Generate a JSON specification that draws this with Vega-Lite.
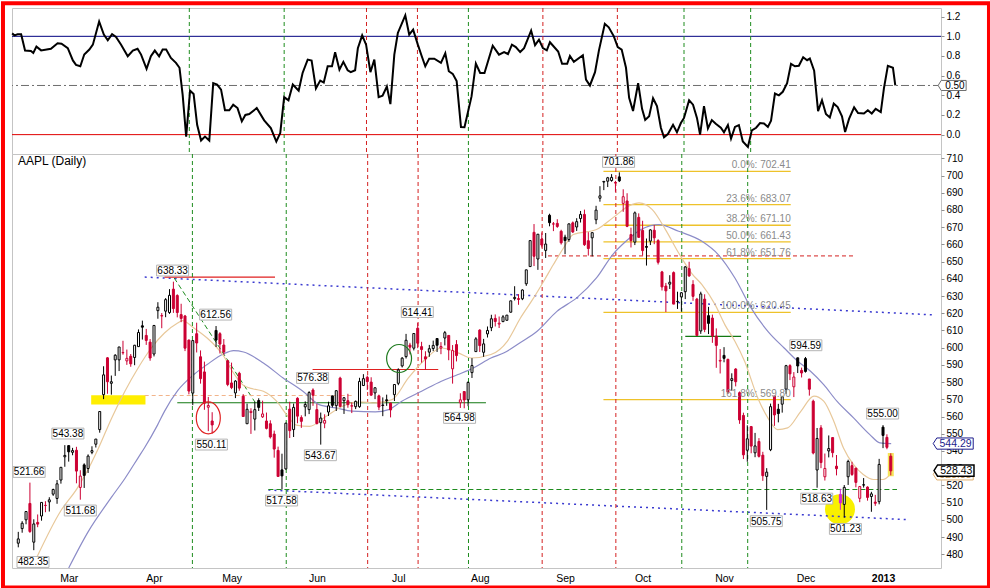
{
  "$schema": "https://vega.github.io/schema/vega-lite/v6.json",
  "padding": 0,
  "background": "white",
  "bounds": "flush",
  "spacing": 0,
  "config": {
    "font": "Liberation Sans",
    "view": {"stroke": "#c4c4c4"},
    "axis": {"grid": false, "domain": false, "labelFont": "Liberation Sans", "labelFontSize": 10, "labelColor": "#000000", "tickColor": "#909090", "tickSize": 3}
  },
  "datasets": {
    "vlines": [
      {"i": 44.9, "k": "g"}, {"i": 69.1, "k": "g"}, {"i": 90.1, "k": "r"}, {"i": 103.1, "k": "r"},
      {"i": 116.1, "k": "g"}, {"i": 135.1, "k": "r"}, {"i": 154.1, "k": "r"}, {"i": 171.1, "k": "g"}, {"i": 188.1, "k": "g"}
    ],
    "osc": [
      {"i":-0.3,"v":1.03},{"i":0.3,"v":1.01},{"i":1.1,"v":1.02},{"i":2,"v":1.02},{"i":3,"v":0.855},{"i":4.5,"v":0.85},{"i":5.1,"v":0.83},{"i":5.9,"v":0.895},{"i":7.1,"v":0.857},{"i":9.6,"v":0.874},
      {"i":11.3,"v":0.93},{"i":12.3,"v":0.925},{"i":13.9,"v":0.88},{"i":15.2,"v":0.755},{"i":16,"v":0.71},{"i":17.1,"v":0.695},{"i":18.1,"v":0.815},{"i":19.4,"v":0.865},{"i":20.3,"v":0.915},{"i":21.9,"v":1.15},
      {"i":23.1,"v":1.017},{"i":24.1,"v":0.96},{"i":25.2,"v":1.023},{"i":26.2,"v":0.993},{"i":27.5,"v":0.915},{"i":29.2,"v":0.797},{"i":30.5,"v":0.855},{"i":31.7,"v":0.874},{"i":32.6,"v":0.814},{"i":34,"v":0.67},
      {"i":35.1,"v":0.797},{"i":36.1,"v":0.855},{"i":37.2,"v":0.797},{"i":38.1,"v":0.865},{"i":39,"v":0.865},{"i":40.2,"v":0.78},{"i":41.5,"v":0.73},{"i":42.4,"v":0.68},{"i":43.2,"v":0.406},{"i":44.1,"v":-0.02},
      {"i":45.1,"v":0.447},{"i":46,"v":0.413},{"i":46.9,"v":0.1},{"i":47.9,"v":-0.06},{"i":48.9,"v":-0.02},{"i":50,"v":-0.06},{"i":51,"v":0.524},{"i":52,"v":0.509},{"i":53,"v":0.458},{"i":54,"v":0.248},
      {"i":55.1,"v":0.248},{"i":56.1,"v":0.305},{"i":57.2,"v":0.27},{"i":58.3,"v":0.135},{"i":59.2,"v":0.2},{"i":60.2,"v":0.21},{"i":62.1,"v":0.27},{"i":64,"v":0.145},{"i":65.7,"v":0.066},{"i":67.1,"v":-0.07},
      {"i":68.1,"v":0.016},{"i":69.1,"v":0.382},{"i":70.2,"v":0.35},{"i":71.3,"v":0.51},{"i":72.8,"v":0.447},{"i":73.8,"v":0.627},{"i":75.1,"v":0.763},{"i":76.1,"v":0.753},{"i":77.2,"v":0.47},{"i":78.3,"v":0.55},
      {"i":79.2,"v":0.53},{"i":80.2,"v":0.695},{"i":81.3,"v":0.695},{"i":82.1,"v":0.837},{"i":83.2,"v":0.66},{"i":84.2,"v":0.74},{"i":85.3,"v":0.655},{"i":86.1,"v":0.635},{"i":87.2,"v":0.655},{"i":87.9,"v":0.88},
      {"i":89,"v":1.01},{"i":90,"v":0.915},{"i":91.1,"v":0.635},{"i":92.1,"v":0.763},{"i":93.2,"v":0.382},{"i":94.2,"v":0.396},{"i":95.3,"v":0.49},{"i":96.2,"v":0.31},{"i":97.2,"v":0.814},{"i":98.1,"v":1.034},
      {"i":100,"v":1.214},{"i":101,"v":1.017},{"i":102,"v":1.068},{"i":103.2,"v":0.915},{"i":104.2,"v":0.797},{"i":105.1,"v":0.695},{"i":106.1,"v":0.773},{"i":107.4,"v":0.773},{"i":109.1,"v":0.73},{"i":110.2,"v":0.827},
      {"i":111.1,"v":0.645},{"i":112.1,"v":0.618},{"i":113.1,"v":0.544},{"i":114.2,"v":0.078},{"i":115.1,"v":0.075},{"i":116.9,"v":0.389},{"i":118,"v":0.722},{"i":119.1,"v":0.627},{"i":120.2,"v":0.627},{"i":122.3,"v":0.905},
      {"i":123.9,"v":0.814},{"i":125.2,"v":0.84},{"i":126.2,"v":0.82},{"i":127.2,"v":0.915},{"i":128.2,"v":0.89},{"i":129.3,"v":0.84},{"i":130.3,"v":0.88},{"i":132.1,"v":1.058},{"i":133.1,"v":0.91},{"i":134.1,"v":0.966},
      {"i":135.1,"v":0.88},{"i":136.1,"v":0.857},{"i":136.9,"v":0.94},{"i":139,"v":0.845},{"i":140,"v":0.72},{"i":141.3,"v":0.72},{"i":142,"v":0.8},{"i":143,"v":0.74},{"i":145.3,"v":0.807},{"i":146.1,"v":0.56},
      {"i":147.1,"v":0.5},{"i":148.4,"v":0.635},{"i":149.4,"v":0.857},{"i":150.9,"v":1.127},{"i":151.9,"v":1.092},{"i":153.2,"v":1.0},{"i":154.2,"v":0.89},{"i":155.2,"v":0.865},{"i":156.3,"v":0.68},{"i":157.1,"v":0.375},
      {"i":158.1,"v":0.24},{"i":159.4,"v":0.524},{"i":160.4,"v":0.262},{"i":161.2,"v":0.15},{"i":162.2,"v":0.186},{"i":163.2,"v":0.37},{"i":164.2,"v":0.29},{"i":165.2,"v":0.07},{"i":166,"v":-0.027},{"i":167,"v":0.006},
      {"i":168.3,"v":0.1},{"i":169.3,"v":0.024},{"i":170.3,"v":0.118},{"i":171.1,"v":0.17},{"i":172.4,"v":0.35},{"i":173.4,"v":0.305},{"i":174.4,"v":0.17},{"i":175.2,"v":0.0},{"i":176.2,"v":0.29},{"i":177.2,"v":0.062},
      {"i":178.2,"v":0.148},{"i":179.2,"v":0.11},{"i":180.5,"v":0.07},{"i":181.3,"v":0.024},{"i":182.3,"v":0.097},{"i":183.1,"v":-0.04},{"i":184.1,"v":0.078},{"i":185.1,"v":0.097},{"i":186.1,"v":-0.07},{"i":187.4,"v":-0.125},
      {"i":188.4,"v":0.044},{"i":189.5,"v":0.07},{"i":190.5,"v":0.118},{"i":191.5,"v":0.114},{"i":192.5,"v":0.078},{"i":193.3,"v":0.142},{"i":194.3,"v":0.418},{"i":195.3,"v":0.4},{"i":196.3,"v":0.436},{"i":197.4,"v":0.524},
      {"i":198.4,"v":0.72},{"i":199.4,"v":0.695},{"i":200.4,"v":0.7},{"i":201.5,"v":0.787},{"i":202.5,"v":0.757},{"i":203.2,"v":0.774},{"i":204.3,"v":0.65},{"i":205.3,"v":0.24},{"i":206.3,"v":0.35},{"i":207.3,"v":0.21},
      {"i":208.3,"v":0.175},{"i":209.3,"v":0.315},{"i":210.3,"v":0.28},{"i":211.4,"v":0.186},{"i":212.2,"v":0.027},{"i":213.2,"v":0.16},{"i":214.5,"v":0.277},{"i":215.5,"v":0.22},{"i":217,"v":0.215},{"i":218,"v":0.248},
      {"i":219,"v":0.215},{"i":220,"v":0.262},{"i":221.3,"v":0.23},{"i":222.1,"v":0.47},{"i":223.1,"v":0.7},{"i":224.4,"v":0.68},{"i":225,"v":0.5}
    ],
    "ohlc": [
      {"i":0,"o":486.4,"h":493,"l":484,"c":488.9},{"i":1,"o":494.9,"h":499.2,"l":492.5,"c":498},{"i":2,"o":500,"h":504.9,"l":497.4,"c":504.8},{"i":3,"o":509.5,"h":521.6,"l":492.4,"c":493.2},
      {"i":4,"o":487,"h":500.3,"l":482.35,"c":497.6},{"i":5,"o":498.5,"h":503.1,"l":495.7,"c":497.5},{"i":6,"o":502.2,"h":510.1,"l":499.5,"c":510.1},{"i":7,"o":508.4,"h":510.8,"l":504.4,"c":508.3},
      {"i":8,"o":510.4,"h":513.1,"l":504.8,"c":511.6},{"i":9,"o":514.9,"h":518.1,"l":513.9,"c":517.6},{"i":10,"o":512.4,"h":523.1,"l":509.3,"c":520.9},{"i":11,"o":523.1,"h":530.5,"l":521,"c":530.5},
      {"i":12,"o":536.6,"h":543.38,"l":530.8,"c":537.4},{"i":13,"o":543.1,"h":543.2,"l":533.8,"c":539.5},{"i":14,"o":539.2,"h":541.8,"l":537.5,"c":540.2},{"i":15,"o":540.4,"h":542.4,"l":521.2,"c":528.3},
      {"i":16,"o":518.8,"h":528.8,"l":511.68,"c":525.4},{"i":17,"o":531.9,"h":532.8,"l":518.5,"c":525.8},{"i":18,"o":529.8,"h":538,"l":527.2,"c":537},{"i":19,"o":539.2,"h":542.7,"l":538.1,"c":540.2},
      {"i":20,"o":543.9,"h":546.9,"l":542,"c":546.9},{"i":21,"o":552.4,"h":563,"l":550.6,"c":562.9},{"i":22,"o":572.7,"h":589.2,"l":570.1,"c":584.2},{"i":23,"o":594.1,"h":594.5,"l":573.2,"c":580.2},
      {"i":24,"o":579.3,"h":583.8,"l":572.7,"c":580.2},{"i":25,"o":592.9,"h":596.2,"l":583.6,"c":595.6},{"i":26,"o":592.9,"h":600.4,"l":586.4,"c":600.4},{"i":27,"o":597.2,"h":604,"l":595.9,"c":597},
      {"i":28,"o":592.3,"h":598.9,"l":590,"c":593.8},{"i":29,"o":595,"h":596.3,"l":588.9,"c":590.6},{"i":30,"o":594.3,"h":601.6,"l":589.8,"c":601.4},{"i":31,"o":600.6,"h":610.6,"l":600.5,"c":608.8},
      {"i":32,"o":612.7,"h":615.7,"l":604.7,"c":611.9},{"i":33,"o":607.1,"h":610.9,"l":601.6,"c":604.2},{"i":34,"o":603.2,"h":605,"l":592.4,"c":594},{"i":35,"o":596.3,"h":613.1,"l":594.9,"c":612.9},
      {"i":36,"o":621.5,"h":626.4,"l":616.8,"c":623.5},{"i":37,"o":618.6,"h":620.1,"l":611.3,"c":618.4},{"i":38,"o":621.2,"h":628.8,"l":617.7,"c":627.9},{"i":39,"o":620.4,"h":634,"l":619.6,"c":630.4},
      {"i":40,"o":634,"h":638.33,"l":620.2,"c":622.7},{"i":41,"o":630.3,"h":631,"l":617.6,"c":620.4},{"i":42,"o":619.2,"h":625.5,"l":614.8,"c":617},{"i":43,"o":618.4,"h":619,"l":598,"c":599.7},
      {"i":44,"o":604.4,"h":604.7,"l":572.9,"c":574.8},{"i":45,"o":573.6,"h":604.4,"l":566.6,"c":604.1},{"i":46,"o":608.1,"h":614.5,"l":597.2,"c":602.7},{"i":47,"o":594.7,"h":598.4,"l":579.1,"c":582},
      {"i":48,"o":585.9,"h":591.9,"l":563.9,"c":567.7},{"i":49,"o":565.4,"h":571.4,"l":551.5,"c":566.4},{"i":50,"o":557.4,"h":562.5,"l":550.11,"c":555.1},{"i":51,"o":610,"h":612.56,"l":600.4,"c":604.4},
      {"i":52,"o":608.1,"h":609,"l":596.6,"c":602.1},{"i":53,"o":601.5,"h":605,"l":596,"c":597.5},{"i":54,"o":592.4,"h":592.9,"l":577.6,"c":578.6},{"i":55,"o":579.5,"h":591.3,"l":575.9,"c":576.8},
      {"i":56,"o":573.7,"h":581.1,"l":570.7,"c":580.6},{"i":57,"o":585.1,"h":586,"l":575,"c":576.5},{"i":58,"o":571.8,"h":573,"l":560,"c":560},{"i":59,"o":555.8,"h":567.5,"l":555.8,"c":564.2},
      {"i":60,"o":562.3,"h":564.8,"l":549.9,"c":563},{"i":61,"o":558.5,"h":568.6,"l":551.9,"c":564},{"i":62,"o":569.3,"h":570.6,"l":563.2,"c":565.3},{"i":63,"o":559.8,"h":569.2,"l":559.2,"c":561.5},
      {"i":64,"o":557.4,"h":562.3,"l":552.5,"c":553.1},{"i":65,"o":555.8,"h":557.8,"l":547.2,"c":548.1},{"i":66,"o":549.8,"h":551.8,"l":536.1,"c":541.1},{"i":67,"o":540.3,"h":542.5,"l":525.2,"c":525.2},
      {"i":68,"o":529,"h":538.4,"l":517.58,"c":525.5},{"i":69,"o":529.6,"h":556.4,"l":529.1,"c":556.1},{"i":70,"o":564.3,"h":568.6,"l":547.5,"c":551.8},{"i":71,"o":552.4,"h":567.5,"l":548.1,"c":565.3},
      {"i":72,"o":570.6,"h":571.2,"l":556.1,"c":560.2},{"i":73,"o":559.4,"h":560.7,"l":553.4,"c":557.2},{"i":74,"o":565.6,"h":568.8,"l":560.1,"c":567},{"i":75,"o":564,"h":574.7,"l":561.4,"c":573.9},
      {"i":76,"o":575.4,"h":576.38,"l":566.2,"c":572.4},{"i":77,"o":564,"h":567.4,"l":555.4,"c":555.9},{"i":78,"o":556.4,"h":562.3,"l":543.67,"c":559.1},{"i":79,"o":556.1,"h":561.3,"l":553.2,"c":557.7},
      {"i":80,"o":562.6,"h":568.6,"l":560.3,"c":566.2},{"i":81,"o":572,"h":572,"l":565.3,"c":566.5},{"i":82,"o":566.3,"h":575.3,"l":563.2,"c":575},{"i":83,"o":582.3,"h":583.1,"l":565.4,"c":565.9},
      {"i":84,"o":569.2,"h":571.3,"l":561.5,"c":570.9},{"i":85,"o":569.2,"h":573.2,"l":565.1,"c":566.9},{"i":86,"o":566,"h":568.2,"l":562,"c":566.3},{"i":87,"o":565.7,"h":569.3,"l":564.3,"c":568.8},
      {"i":88,"o":565.7,"h":582.5,"l":565.1,"c":580.4},{"i":89,"o":578,"h":584.6,"l":577.7,"c":582},{"i":90,"o":582.8,"h":583.8,"l":575.4,"c":580.3},{"i":91,"o":580,"h":582.8,"l":572.1,"c":572.4},
      {"i":92,"o":573.7,"h":576.8,"l":570.1,"c":576.7},{"i":93,"o":572,"h":572.7,"l":563.7,"c":565.5},{"i":94,"o":566.4,"h":571.1,"l":560.2,"c":566.7},{"i":95,"o":569.7,"h":572.7,"l":566.2,"c":569.2},
      {"i":96,"o":567.8,"h":568,"l":559.5,"c":563.8},{"i":97,"o":572.7,"h":578.6,"l":569,"c":578.6},{"i":98,"o":579.3,"h":588,"l":578.2,"c":587.1},{"i":99,"o":589.4,"h":594.5,"l":588.5,"c":593.9},
      {"i":100,"o":594.8,"h":608,"l":593.7,"c":604.3},{"i":101,"o":601.5,"h":602.8,"l":596.1,"c":600.3},{"i":102,"o":599.7,"h":608.3,"l":598.4,"c":608.2},{"i":103,"o":611.3,"h":614.41,"l":599.7,"c":602.6},
      {"i":104,"o":600.6,"h":603.4,"l":591.3,"c":598.9},{"i":105,"o":594.7,"h":597.9,"l":587.2,"c":593.4},{"i":106,"o":597.4,"h":601.6,"l":594.7,"c":599.4},{"i":107,"o":599.5,"h":604.1,"l":598,"c":601.3},
      {"i":108,"o":605.3,"h":605.4,"l":597.5,"c":601.4},{"i":109,"o":599.8,"h":603.2,"l":596.2,"c":600.7},{"i":110,"o":605.6,"h":609.7,"l":601.3,"c":608.7},{"i":111,"o":607.1,"h":607.3,"l":592.7,"c":598.7},
      {"i":112,"o":587.7,"h":601.5,"l":579.1,"c":598.3},{"i":113,"o":601.8,"h":604.4,"l":592,"c":595.4},{"i":114,"o":568,"h":573.5,"l":564.98,"c":569.7},{"i":115,"o":574.5,"h":574.7,"l":564.8,"c":569.6},
      {"i":116,"o":569.7,"h":580.4,"l":566,"c":579.8},{"i":117,"o":585.5,"h":593.9,"l":582.4,"c":589.6},{"i":118,"o":597.7,"h":606.1,"l":597.5,"c":605.1},{"i":119,"o":610.2,"h":610.7,"l":597.5,"c":601.2},
      {"i":120,"o":597.3,"h":605.1,"l":594.7,"c":602.2},{"i":121,"o":608,"h":612.3,"l":605.9,"c":610},{"i":122,"o":611.6,"h":619.1,"l":609.6,"c":616.8},{"i":123,"o":617,"h":619.3,"l":612.3,"c":615.2},
      {"i":124,"o":613.7,"h":618.1,"l":611.4,"c":614.2},{"i":125,"o":615.1,"h":618.9,"l":615,"c":617.9},{"i":126,"o":615.9,"h":618.9,"l":615.9,"c":618.9},{"i":127,"o":620.6,"h":627.2,"l":620.4,"c":627.2},
      {"i":128,"o":628.5,"h":635.7,"l":627.4,"c":629.2},{"i":129,"o":628.5,"h":631.1,"l":624.9,"c":628},{"i":130,"o":628.4,"h":633.9,"l":627.6,"c":633.5},{"i":131,"o":637.1,"h":645.3,"l":635.9,"c":645.2},
      {"i":132,"o":647.1,"h":662.2,"l":647,"c":662.2},{"i":133,"o":667,"h":671.8,"l":647.4,"c":653.1},{"i":134,"o":651.5,"h":666,"l":645.2,"c":665.9},{"i":135,"o":663.1,"h":666.9,"l":658.2,"c":659.6},
      {"i":136,"o":656.5,"h":666.6,"l":652.1,"c":660.2},{"i":137,"o":676.9,"h":677.8,"l":670.5,"c":672.6},{"i":138,"o":671.9,"h":673,"l":667.7,"c":671.8},{"i":139,"o":672.2,"h":674.6,"l":669.6,"c":670.4},
      {"i":140,"o":667.6,"h":668.5,"l":659.9,"c":660.9},{"i":141,"o":664.2,"h":665.6,"l":654.3,"c":662.2},{"i":142,"o":662.8,"h":672.1,"l":661.5,"c":671.9},{"i":143,"o":672.5,"h":673.3,"l":666.6,"c":667.2},
      {"i":144,"o":670.1,"h":675.2,"l":667.8,"c":673.2},{"i":145,"o":675,"h":679.4,"l":672.7,"c":677.4},{"i":146,"o":677.4,"h":680.2,"l":659.1,"c":659.8},{"i":147,"o":662.1,"h":667.1,"l":653.5,"c":657.6},
      {"i":148,"o":663.8,"h":666.9,"l":653,"c":666.8},{"i":149,"o":674.3,"h":682.4,"l":671.7,"c":679.9},{"i":150,"o":686.8,"h":693.8,"l":684.8,"c":688.2},{"i":151,"o":696.2,"h":696.6,"l":691.5,"c":696.6},
      {"i":152,"o":696.7,"h":699.2,"l":693.3,"c":698.7},{"i":153,"o":697.1,"h":700.8,"l":696.4,"c":698.9},{"i":154,"o":696,"h":696.9,"l":690.5,"c":695.6},{"i":155,"o":699.2,"h":701.86,"l":696.2,"c":696.9},
      {"i":156,"o":683.8,"h":692,"l":678.9,"c":687.7},{"i":157,"o":685.2,"h":689.7,"l":670,"c":670.5},{"i":158,"o":665.7,"h":669.7,"l":658.2,"c":662.2},{"i":159,"o":661.3,"h":679.1,"l":659.6,"c":678.3},
      {"i":160,"o":675.7,"h":678,"l":663.8,"c":664.1},{"i":161,"o":668.1,"h":673.7,"l":653.5,"c":656.4},{"i":162,"o":658.8,"h":663.4,"l":647.7,"c":658.3},{"i":163,"o":661.9,"h":668.8,"l":659.6,"c":668.4},
      {"i":164,"o":668.2,"h":671.2,"l":660.1,"c":663.8},{"i":165,"o":662.2,"h":663,"l":648.3,"c":649.6},{"i":166,"o":644,"h":644.6,"l":633.2,"c":635.3},{"i":167,"o":635.8,"h":637.6,"l":620.7,"c":633},
      {"i":168,"o":636.9,"h":642.1,"l":634.1,"c":638},{"i":169,"o":643.6,"h":644.3,"l":625.3,"c":625.3},{"i":170,"o":626.7,"h":632.5,"l":622.5,"c":626.9},{"i":171,"o":629.5,"h":632.3,"l":621,"c":631.9},
      {"i":172,"o":632.5,"h":647.4,"l":628.2,"c":646.9},{"i":173,"o":645.9,"h":649.9,"l":641.1,"c":641.7},{"i":174,"o":636.7,"h":639.2,"l":627.2,"c":629.8},{"i":175,"o":628.2,"h":628.9,"l":606.9,"c":607.1},
      {"i":176,"o":609.7,"h":632.5,"l":608,"c":631.2},{"i":177,"o":628.2,"h":631,"l":609,"c":610.6},{"i":178,"o":618.6,"h":623.7,"l":607.9,"c":614.1},{"i":179,"o":617.2,"h":619.2,"l":602.8,"c":606.8},
      {"i":180,"o":606.7,"h":611.2,"l":588.3,"c":601.3},{"i":181,"o":592.2,"h":599.2,"l":585,"c":592.6},{"i":182,"o":595.5,"h":600.3,"l":591.5,"c":593.8},{"i":183,"o":593.2,"h":593.6,"l":573.1,"c":574.2},
      {"i":184,"o":580.9,"h":585.1,"l":575,"c":582},{"i":185,"o":587.6,"h":588.1,"l":577.5,"c":580.2},{"i":186,"o":573.84,"h":574.54,"l":555.75,"c":558},{"i":187,"o":560.63,"h":562.23,"l":535.29,"c":537.75},
      {"i":188,"o":540.42,"h":554.88,"l":533.72,"c":547.06},{"i":189,"o":554.15,"h":554.5,"l":538.65,"c":542.83},{"i":190,"o":538.91,"h":550.48,"l":536.36,"c":542.9},{"i":191,"o":545.5,"h":547.45,"l":536.18,"c":536.88},
      {"i":192,"o":537.53,"h":539.5,"l":522.62,"c":525.62},{"i":193,"o":525.2,"h":530,"l":505.75,"c":527.68},{"i":194,"o":540.71,"h":567.5,"l":539.88,"c":565.73},{"i":195,"o":571.91,"h":571.95,"l":554.58,"c":560.91},
      {"i":196,"o":564.25,"h":567.37,"l":556.6,"c":561.7},{"i":197,"o":567.17,"h":572,"l":562.26,"c":571.5},{"i":198,"o":575.9,"h":590,"l":573.17,"c":589.53},{"i":199,"o":589.55,"h":590.37,"l":581.15,"c":584.78},
      {"i":200,"o":577.27,"h":585.8,"l":571.3,"c":582.94},{"i":201,"o":594.09,"h":594.25,"l":585.25,"c":589.36},{"i":202,"o":586.79,"h":588.4,"l":582.68,"c":585.28},{"i":203,"o":593.65,"h":594.59,"l":585.5,"c":586.19},
      {"i":204,"o":581.8,"h":581.8,"l":572.13,"c":575.85},{"i":205,"o":568.91,"h":569.8,"l":538,"c":538.79},{"i":206,"o":528.94,"h":553.33,"l":518.63,"c":547.24},{"i":207,"o":553.4,"h":555,"l":530,"c":533.25},
      {"i":208,"o":525,"h":538.51,"l":522.82,"c":529.82},{"i":209,"o":540,"h":549,"l":536.25,"c":541.39},{"i":210,"o":547.77,"h":547.99,"l":536.27,"c":539},{"i":211,"o":531.15,"h":537.64,"l":525.8,"c":529.69},
      {"i":212,"o":514.75,"h":518,"l":505.79,"c":509.79},{"i":213,"o":508.93,"h":520.2,"l":501.23,"c":518.83},{"i":214,"o":525,"h":534.9,"l":520.25,"c":533.9},{"i":215,"o":531.47,"h":533.7,"l":525.5,"c":526.31},
      {"i":216,"o":530,"h":530.2,"l":518.88,"c":521.73},{"i":217,"o":512.47,"h":519.67,"l":510.24,"c":519.33},{"i":218,"o":520.35,"h":524.25,"l":518.71,"c":520.17},{"i":219,"o":519,"h":519.46,"l":511.12,"c":513},
      {"i":220,"o":513.54,"h":516.25,"l":504.66,"c":515.06},{"i":221,"o":510.29,"h":514.48,"l":508.12,"c":509.59},{"i":222,"o":510.53,"h":535.4,"l":509,"c":532.17},{"i":223,"o":553.82,"h":555,"l":541.63,"c":549.03},
      {"i":224,"o":547.88,"h":549.67,"l":541,"c":542.1},{"i":225,"o":536.97,"h":538.63,"l":525.83,"c":528.43}
    ],
    "ma_fast": [
      {"i":4.9,"p":478.8},{"i":10.9,"p":505},{"i":15.1,"p":518},{"i":17.3,"p":526.3},{"i":20.7,"p":541.7},{"i":24.1,"p":559.2},{"i":27.5,"p":574.7},{"i":30.9,"p":588.2},{"i":34.3,"p":599.8},{"i":37.7,"p":608.5},
      {"i":41.1,"p":614.3},{"i":42.3,"p":615.7},{"i":45.3,"p":611.4},{"i":48.7,"p":605.6},{"i":51.3,"p":599.8},{"i":53,"p":595},{"i":55,"p":587},{"i":58.1,"p":578},{"i":60.6,"p":576},{"i":63.2,"p":574.7},
      {"i":66.6,"p":568.9},{"i":69.2,"p":561.1},{"i":71.7,"p":555},{"i":75.1,"p":554.3},{"i":79.4,"p":560.1},{"i":83.6,"p":566},{"i":87.9,"p":568.5},{"i":92.1,"p":567.9},{"i":96.4,"p":569.8},{"i":100.6,"p":582.4},
      {"i":104.9,"p":593.1},{"i":109.1,"p":599.8},{"i":113.4,"p":597},{"i":116.8,"p":594},{"i":121.9,"p":596},{"i":126.1,"p":603.7},{"i":129.5,"p":617.2},{"i":132.9,"p":628.9},{"i":135.5,"p":638.6},{"i":138,"p":648.3},
      {"i":140.6,"p":657.9},{"i":143.1,"p":665.7},{"i":149.1,"p":668.6},{"i":153.3,"p":675.4},{"i":157.6,"p":682.5},{"i":160.1,"p":684.1},{"i":163.5,"p":680.2},{"i":166.9,"p":668.6},{"i":170.3,"p":655},{"i":173.7,"p":643},
      {"i":176.3,"p":636.6},{"i":179.7,"p":625},{"i":182.2,"p":613.4},{"i":184.8,"p":603.7},{"i":187.3,"p":592.1},{"i":190.7,"p":570.8},{"i":193.3,"p":559.2},{"i":195.8,"p":552.4},{"i":198.4,"p":553.4},{"i":201.8,"p":563},
      {"i":205.2,"p":571.8},{"i":207.7,"p":568.9},{"i":210.3,"p":557.2},{"i":212.8,"p":541.7},{"i":215.4,"p":532},{"i":217.9,"p":526.3},{"i":220.5,"p":523.4},{"i":223,"p":523.4},{"i":225.1,"p":527}
    ],
    "ma_slow": [
      {"i":13,"p":472},{"i":18,"p":493},{"i":24,"p":513},{"i":27.5,"p":524},{"i":30.9,"p":536},{"i":32.6,"p":542},{"i":35.9,"p":555},{"i":37.7,"p":563},{"i":41.1,"p":575},{"i":45.3,"p":584.4},
      {"i":48.7,"p":590.2},{"i":53,"p":596.5},{"i":55.5,"p":598.3},{"i":58.1,"p":597.5},{"i":63.2,"p":591.1},{"i":68.3,"p":582.4},{"i":73.4,"p":574.7},{"i":77.6,"p":566.9},{"i":81.9,"p":565},{"i":86.1,"p":563.1},
      {"i":92.1,"p":562.7},{"i":95.5,"p":564},{"i":98.9,"p":568.9},{"i":104,"p":574.7},{"i":109.1,"p":580.5},{"i":113.4,"p":584.4},{"i":117.6,"p":588.5},{"i":121.9,"p":594},{"i":125.3,"p":597},{"i":129.5,"p":603},
      {"i":133.8,"p":609.5},{"i":138.9,"p":621.1},{"i":144,"p":628.9},{"i":149.1,"p":640.5},{"i":153.3,"p":654.1},{"i":156.7,"p":661.8},{"i":160.5,"p":668.5},{"i":165.2,"p":671.5},{"i":170.3,"p":667.6},{"i":176.3,"p":661.8},
      {"i":180.5,"p":654.1},{"i":184.8,"p":640.5},{"i":189,"p":623},{"i":193.3,"p":609.5},{"i":197.5,"p":599.8},{"i":201,"p":592.1},{"i":204.3,"p":586.3},{"i":207.7,"p":578.5},{"i":211.1,"p":568.9},{"i":215.4,"p":559.2},
      {"i":219.6,"p":549.5},{"i":222.2,"p":544.7},{"i":225.1,"p":544.29}
    ],
    "segs": [
      {"k":"bd","i1":32.6,"p1":641,"i2":236.6,"p2":619},
      {"k":"bd","i1":64.5,"p1":517.3,"i2":229.4,"p2":500.1},
      {"k":"gd","i1":64.5,"p1":517.6,"i2":226.6,"p2":517.6},
      {"k":"gd","i1":40.2,"p1":640.5,"i2":61,"p2":568.5},
      {"k":"gs","i1":41,"p1":568,"i2":120.6,"p2":568},
      {"k":"gs","i1":172,"p1":606.6,"i2":186.4,"p2":606.6},
      {"k":"rs","i1":37.7,"p1":641,"i2":66.2,"p2":641},
      {"k":"rs","i1":75.9,"p1":587.3,"i2":108.3,"p2":587.3},
      {"k":"rd","i1":136.6,"p1":653.3,"i2":215.7,"p2":653.3},
      {"k":"pd","i1":32.6,"p1":572.2,"i2":86,"p2":572.2}
    ],
    "fib": [
      {"p":702.41,"t":"0.0%: 702.41"},{"p":683.07,"t":"23.6%: 683.07"},{"p":671.10,"t":"38.2%: 671.10"},{"p":661.43,"t":"50.0%: 661.43"},
      {"p":651.76,"t":"61.8%: 651.76"},{"p":620.45,"t":"100.0%: 620.45"},{"p":569.80,"t":"161.8%: 569.80"}
    ],
    "callouts": [
      {"i":39.8,"p":644.8,"t":"638.33"},{"i":50.9,"p":619.2,"t":"612.56"},{"i":12.8,"p":550.1,"t":"543.38"},{"i":2.8,"p":527.8,"t":"521.66"},
      {"i":16,"p":505.4,"t":"511.68"},{"i":3.8,"p":475.5,"t":"482.35"},{"i":49.8,"p":543.7,"t":"550.11"},{"i":75.9,"p":582.4,"t":"576.38"},
      {"i":77.9,"p":537.5,"t":"543.67"},{"i":67.9,"p":511.2,"t":"517.58"},{"i":102.9,"p":620.7,"t":"614.41"},{"i":113.8,"p":559.2,"t":"564.98"},
      {"i":154.8,"p":707.9,"t":"701.86"},{"i":203.1,"p":601.4,"t":"594.59"},{"i":222.9,"p":561.7,"t":"555.00"},{"i":205.9,"p":512.3,"t":"518.63"},
      {"i":192.9,"p":499.2,"t":"505.75"},{"i":213.3,"p":494.7,"t":"501.23"}
    ]
  },
  "resolve": {"scale": {"x": "independent", "y": "independent"}},
  "vconcat": [
    {
      "width": 929,
      "height": 146,
      "resolve": {"axis": {"x": "independent", "y": "independent"}},
      "layer": [
        {
          "data": {"values": [{}]},
          "mark": {"type": "rect", "fill": null, "stroke": "#ff0000", "strokeWidth": 4, "clip": false},
          "encoding": {
            "x": {"datum": -2.63, "type": "quantitative", "scale": {"domain": [-0.33, 236.66], "nice": false, "zero": false}, "axis": null},
            "x2": {"datum": 248.9},
            "y": {"datum": 1.336, "type": "quantitative", "scale": {"domain": [-0.197, 1.288], "nice": false, "zero": false},
                  "axis": {"orient": "right", "title": null, "values": [0, 0.2, 0.4, 0.6, 0.8, 1.0, 1.2], "format": ".1f", "labelPadding": 2}},
            "y2": {"datum": -4.605}
          }
        },
        {
          "data": {"values": [{"v": 1.0}]},
          "mark": {"type": "rule", "color": "#000080", "strokeWidth": 1},
          "encoding": {"y": {"field": "v", "type": "quantitative", "axis": null}}
        },
        {
          "data": {"values": [{"v": 0.5}]},
          "mark": {"type": "rule", "color": "#6e6e6e", "strokeWidth": 1, "strokeDash": [8, 3, 2, 3]},
          "encoding": {"y": {"field": "v", "type": "quantitative", "axis": null}}
        },
        {
          "data": {"values": [{"v": 0.0}]},
          "mark": {"type": "rule", "color": "#e00000", "strokeWidth": 1},
          "encoding": {"y": {"field": "v", "type": "quantitative", "axis": null}}
        },
        {
          "data": {"name": "vlines"},
          "mark": {"type": "rule", "strokeWidth": 1, "strokeDash": [4, 3]},
          "encoding": {
            "x": {"field": "i", "type": "quantitative", "axis": null},
            "color": {"field": "k", "type": "nominal", "scale": {"domain": ["g", "r"], "range": ["#1e8c1e", "#d42020"]}, "legend": null}
          }
        },
        {
          "data": {"name": "osc"},
          "mark": {"type": "line", "color": "#000000", "strokeWidth": 2},
          "encoding": {
            "x": {"field": "i", "type": "quantitative", "axis": null},
            "y": {"field": "v", "type": "quantitative", "axis": null}
          }
        },
        {
          "data": {"values": [{"i": 239.5, "v": 0.5}]},
          "mark": {"type": "point", "shape": "M-1,0 L-0.78,-0.36 L1,-0.36 L1,0.36 L-0.78,0.36 Z", "size": 784, "filled": true, "fill": "white", "stroke": "#707070", "strokeWidth": 1, "opacity": 1, "clip": false},
          "encoding": {
            "x": {"field": "i", "type": "quantitative", "axis": null},
            "y": {"field": "v", "type": "quantitative", "axis": null}
          }
        },
        {
          "data": {"values": [{"i": 240.2, "v": 0.5, "t": "0.50"}]},
          "mark": {"type": "text", "fontSize": 10, "color": "#000000", "align": "center", "baseline": "middle", "dy": 0.5},
          "encoding": {
            "x": {"field": "i", "type": "quantitative", "axis": null},
            "y": {"field": "v", "type": "quantitative", "axis": null},
            "text": {"field": "t"}
          }
        }
      ]
    },
    {
      "width": 929,
      "height": 414,
      "resolve": {"axis": {"x": "independent", "y": "independent"}},
      "layer": [
        {
          "data": {"values": [{"i1": 18.8, "i2": 32.8, "p1": 567, "p2": 572.4}]},
          "mark": {"type": "rect", "color": "#ffee00"},
          "encoding": {
            "x": {"field": "i1", "type": "quantitative", "scale": {"domain": [-0.33, 236.66], "nice": false, "zero": false},
                  "axis": {"title": null, "values": [13, 35, 55, 77, 98, 119, 141, 161, 182, 203, 223], "ticks": false, "labelPadding": 5, "labelFontSize": 10.5,
                           "labelExpr": "['Mar','Apr','May','Jun','Jul','Aug','Sep','Oct','Nov','Dec','2013'][indexof([13,35,55,77,98,119,141,161,182,203,223], datum.value)]",
                           "labelFontWeight": {"condition": {"test": "datum.value == 223", "value": "bold"}, "value": "normal"}}},
            "x2": {"field": "i2"},
            "y": {"field": "p1", "type": "quantitative", "scale": {"domain": [472, 712.5], "nice": false, "zero": false},
                  "axis": {"orient": "right", "title": null, "values": [480, 490, 500, 510, 520, 530, 540, 550, 560, 570, 580, 590, 600, 610, 620, 630, 640, 650, 660, 670, 680, 690, 700, 710], "labelPadding": 2}},
            "y2": {"field": "p2"}
          }
        },
        {
          "data": {"values": [{"i": 211.9, "p": 506.1}]},
          "mark": {"type": "point", "shape": "circle", "size": 900, "filled": true, "color": "#f8f000", "opacity": 1},
          "encoding": {
            "x": {"field": "i", "type": "quantitative", "axis": null},
            "y": {"field": "p", "type": "quantitative", "axis": null}
          }
        },
        {
          "data": {"name": "segs"},
          "transform": [{"filter": "datum.k == 'bd'"}],
          "mark": {"type": "rule", "color": "#3a3ad0", "strokeWidth": 1.5, "strokeDash": [2, 4]},
          "encoding": {
            "x": {"field": "i1", "type": "quantitative", "axis": null}, "x2": {"field": "i2"},
            "y": {"field": "p1", "type": "quantitative", "axis": null}, "y2": {"field": "p2"}
          }
        },
        {
          "data": {"name": "segs"},
          "transform": [{"filter": "datum.k == 'gd'"}],
          "mark": {"type": "rule", "color": "#1e8c1e", "strokeWidth": 1, "strokeDash": [5, 3]},
          "encoding": {
            "x": {"field": "i1", "type": "quantitative", "axis": null}, "x2": {"field": "i2"},
            "y": {"field": "p1", "type": "quantitative", "axis": null}, "y2": {"field": "p2"}
          }
        },
        {
          "data": {"name": "segs"},
          "transform": [{"filter": "datum.k == 'gs'"}],
          "mark": {"type": "rule", "color": "#127812", "strokeWidth": 1.2},
          "encoding": {
            "x": {"field": "i1", "type": "quantitative", "axis": null}, "x2": {"field": "i2"},
            "y": {"field": "p1", "type": "quantitative", "axis": null}, "y2": {"field": "p2"}
          }
        },
        {
          "data": {"name": "segs"},
          "transform": [{"filter": "datum.k == 'rs'"}],
          "mark": {"type": "rule", "color": "#e02020", "strokeWidth": 1.2},
          "encoding": {
            "x": {"field": "i1", "type": "quantitative", "axis": null}, "x2": {"field": "i2"},
            "y": {"field": "p1", "type": "quantitative", "axis": null}, "y2": {"field": "p2"}
          }
        },
        {
          "data": {"name": "segs"},
          "transform": [{"filter": "datum.k == 'rd'"}],
          "mark": {"type": "rule", "color": "#d42020", "strokeWidth": 1, "strokeDash": [4, 3]},
          "encoding": {
            "x": {"field": "i1", "type": "quantitative", "axis": null}, "x2": {"field": "i2"},
            "y": {"field": "p1", "type": "quantitative", "axis": null}, "y2": {"field": "p2"}
          }
        },
        {
          "data": {"name": "segs"},
          "transform": [{"filter": "datum.k == 'pd'"}],
          "mark": {"type": "rule", "color": "#f2b48a", "strokeWidth": 1, "strokeDash": [4, 3]},
          "encoding": {
            "x": {"field": "i1", "type": "quantitative", "axis": null}, "x2": {"field": "i2"},
            "y": {"field": "p1", "type": "quantitative", "axis": null}, "y2": {"field": "p2"}
          }
        },
        {
          "data": {"name": "fib"},
          "mark": {"type": "rule", "color": "#eec22a", "strokeWidth": 1.3},
          "encoding": {
            "x": {"datum": 150.9, "type": "quantitative", "axis": null}, "x2": {"datum": 199.2},
            "y": {"field": "p", "type": "quantitative", "axis": null}
          }
        },
        {
          "data": {"name": "vlines"},
          "mark": {"type": "rule", "strokeWidth": 1, "strokeDash": [4, 3]},
          "encoding": {
            "x": {"field": "i", "type": "quantitative", "axis": null},
            "color": {"field": "k", "type": "nominal", "scale": {"domain": ["g", "r"], "range": ["#1e8c1e", "#d42020"]}, "legend": null}
          }
        },
        {
          "data": {"name": "ma_slow"},
          "mark": {"type": "line", "color": "#8c8cc8", "strokeWidth": 1.2, "interpolate": "monotone"},
          "encoding": {
            "x": {"field": "i", "type": "quantitative", "axis": null},
            "y": {"field": "p", "type": "quantitative", "axis": null}
          }
        },
        {
          "data": {"name": "ma_fast"},
          "mark": {"type": "line", "color": "#e8c89a", "strokeWidth": 1.2, "interpolate": "monotone"},
          "encoding": {
            "x": {"field": "i", "type": "quantitative", "axis": null},
            "y": {"field": "p", "type": "quantitative", "axis": null}
          }
        },
        {
          "data": {"values": [{"i": 225, "p1": 525.3, "p2": 538.8}]},
          "mark": {"type": "bar", "width": 6, "color": "#f6e35a"},
          "encoding": {
            "x": {"field": "i", "type": "quantitative", "axis": null},
            "y": {"field": "p1", "type": "quantitative", "axis": null}, "y2": {"field": "p2"}
          }
        },
        {
          "data": {"name": "ohlc"},
          "transform": [{"window": [{"op": "lag", "field": "c", "as": "pc"}], "sort": [{"field": "i", "order": "ascending"}]}],
          "mark": {"type": "rule", "strokeWidth": 1},
          "encoding": {
            "x": {"field": "i", "type": "quantitative", "axis": null},
            "y": {"field": "l", "type": "quantitative", "axis": null},
            "y2": {"field": "h"},
            "stroke": {"condition": [{"test": "datum.i == 212", "value": "#d81fd8"}, {"test": "datum.c < datum.pc", "value": "#cc0033"}], "value": "#000000"}
          }
        },
        {
          "data": {"name": "ohlc"},
          "transform": [{"window": [{"op": "lag", "field": "c", "as": "pc"}], "sort": [{"field": "i", "order": "ascending"}]}],
          "mark": {"type": "bar", "width": 2, "strokeWidth": 1},
          "encoding": {
            "x": {"field": "i", "type": "quantitative", "axis": null},
            "y": {"field": "o", "type": "quantitative", "axis": null},
            "y2": {"field": "c"},
            "stroke": {"condition": [{"test": "datum.i == 212", "value": "#d81fd8"}, {"test": "datum.c < datum.pc", "value": "#cc0033"}], "value": "#000000"},
            "fill": {"condition": [{"test": "datum.i == 212", "value": "#d81fd8"}, {"test": "datum.c >= datum.o", "value": "#ffffff"}, {"test": "datum.c < datum.pc", "value": "#cc0033"}], "value": "#000000"}
          }
        },
        {
          "data": {"values": [{"i": 49.0, "p": 559.2}]},
          "mark": {"type": "point", "shape": "M-0.75,0 A0.75,1 0 1,1 0.75,0 A0.75,1 0 1,1 -0.75,0 Z", "size": 1024, "filled": false, "color": "#e02020", "strokeWidth": 1.2, "opacity": 1},
          "encoding": {
            "x": {"field": "i", "type": "quantitative", "axis": null},
            "y": {"field": "p", "type": "quantitative", "axis": null}
          }
        },
        {
          "data": {"values": [{"i": 98.2, "p": 593.7}]},
          "mark": {"type": "point", "shape": "M-0.89,0 A0.89,1 0 1,1 0.89,0 A0.89,1 0 1,1 -0.89,0 Z", "size": 784, "filled": false, "color": "#1e7a1e", "strokeWidth": 1.2, "opacity": 1},
          "encoding": {
            "x": {"field": "i", "type": "quantitative", "axis": null},
            "y": {"field": "p", "type": "quantitative", "axis": null}
          }
        },
        {
          "data": {"name": "callouts"},
          "mark": {"type": "point", "shape": "M-1,-0.34 L1,-0.34 L1,0.34 L-1,0.34 Z", "size": 1024, "filled": true, "fill": "white", "stroke": "#b4b4b4", "strokeWidth": 1, "opacity": 1},
          "encoding": {
            "x": {"field": "i", "type": "quantitative", "axis": null},
            "y": {"field": "p", "type": "quantitative", "axis": null}
          }
        },
        {
          "data": {"name": "callouts"},
          "mark": {"type": "text", "fontSize": 10, "color": "#000000", "align": "center", "baseline": "middle", "dy": 0.5},
          "encoding": {
            "x": {"field": "i", "type": "quantitative", "axis": null},
            "y": {"field": "p", "type": "quantitative", "axis": null},
            "text": {"field": "t"}
          }
        },
        {
          "data": {"name": "fib"},
          "mark": {"type": "text", "fontSize": 10, "color": "#8a8a8a", "align": "right", "baseline": "middle", "dy": -6},
          "encoding": {
            "x": {"datum": 199.2, "type": "quantitative", "axis": null},
            "y": {"field": "p", "type": "quantitative", "axis": null},
            "text": {"field": "t"}
          }
        },
        {
          "data": {"values": [{"i": -0.1, "p": 708.4, "t": "AAPL (Daily)"}]},
          "mark": {"type": "text", "fontSize": 12, "color": "#000000", "align": "left", "baseline": "middle"},
          "encoding": {
            "x": {"field": "i", "type": "quantitative", "axis": null},
            "y": {"field": "p", "type": "quantitative", "axis": null},
            "text": {"field": "t"}
          }
        },
        {
          "data": {"values": [{"i": 241.1, "p": 544.29}]},
          "mark": {"type": "point", "shape": "M-1,0 L-0.82,-0.28 L1,-0.28 L1,0.28 L-0.82,0.28 Z", "size": 1600, "filled": true, "fill": "white", "stroke": "#1c1c8c", "strokeWidth": 1, "opacity": 1, "clip": false},
          "encoding": {
            "x": {"field": "i", "type": "quantitative", "axis": null},
            "y": {"field": "p", "type": "quantitative", "axis": null}
          }
        },
        {
          "data": {"values": [{"i": 241.1, "p": 526.4}]},
          "mark": {"type": "point", "shape": "M-1,0 L-0.82,-0.28 L1,-0.28 L1,0.28 L-0.82,0.28 Z", "size": 1600, "filled": true, "fill": "white", "stroke": "#e0b070", "strokeWidth": 1, "opacity": 1, "clip": false},
          "encoding": {
            "x": {"field": "i", "type": "quantitative", "axis": null},
            "y": {"field": "p", "type": "quantitative", "axis": null}
          }
        },
        {
          "data": {"values": [{"i": 241.7, "p": 526.4, "t": "523.58"}]},
          "mark": {"type": "text", "fontSize": 10.5, "color": "#c09050", "align": "center", "baseline": "middle", "dy": 0.5, "clip": false},
          "encoding": {
            "x": {"field": "i", "type": "quantitative", "axis": null},
            "y": {"field": "p", "type": "quantitative", "axis": null},
            "text": {"field": "t"}
          }
        },
        {
          "data": {"values": [{"i": 241.3, "p": 528.6}]},
          "mark": {"type": "point", "shape": "M-1,0 L-0.82,-0.28 L1,-0.28 L1,0.28 L-0.82,0.28 Z", "size": 1600, "filled": true, "fill": "white", "stroke": "#000000", "strokeWidth": 1.5, "opacity": 1, "clip": false},
          "encoding": {
            "x": {"field": "i", "type": "quantitative", "axis": null},
            "y": {"field": "p", "type": "quantitative", "axis": null}
          }
        },
        {
          "data": {"values": [{"i": 241.7, "p": 544.29, "t": "544.29"}, {"i": 241.9, "p": 528.6, "t": "528.43"}]},
          "mark": {"type": "text", "fontSize": 10.5, "color": "#000000", "align": "center", "baseline": "middle", "dy": 0.5, "clip": false},
          "encoding": {
            "x": {"field": "i", "type": "quantitative", "axis": null},
            "y": {"field": "p", "type": "quantitative", "axis": null},
            "text": {"field": "t"},
            "fontWeight": {"condition": {"test": "datum.t == '528.43'", "value": "bold"}, "value": "normal"},
            "color": {"condition": {"test": "datum.t == '544.29'", "value": "#1c1c8c"}, "value": "#000000"}
          }
        }
      ]
    }
  ]
}
